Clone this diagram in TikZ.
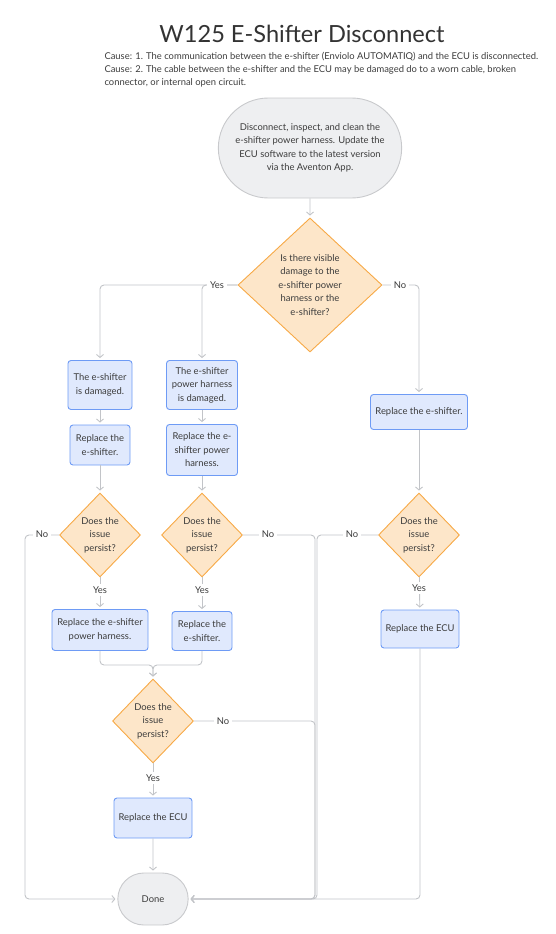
\documentclass[tikz,border=0pt]{standalone}
\usepackage{fontspec}
\setmainfont{Lato}
\usetikzlibrary{shapes.geometric,shapes.misc,arrows.meta,positioning}
\definecolor{boxfill}{HTML}{E0E9FD}
\definecolor{boxline}{HTML}{6E9BF5}
\definecolor{askfill}{HTML}{FDE6C9}
\definecolor{askline}{HTML}{F7A946}
\definecolor{endfill}{HTML}{EEEFF1}
\definecolor{endline}{HTML}{C8C9CC}
\definecolor{wirecol}{HTML}{C2C4C8}
\definecolor{ink}{HTML}{3C3C3C}
\begin{document}
\begin{tikzpicture}[x=1pt,y=-1pt,
  every node/.style={text=ink, font=\fontsize{9.4}{13.5}\selectfont, align=center},
  task/.style={draw=boxline, fill=boxfill, line width=0.9pt, rounded corners=3pt, inner sep=1pt},
  ask/.style={diamond, draw=askline, fill=askfill, line width=0.9pt, inner sep=-3pt},
  ends/.style={rounded rectangle, draw=endline, fill=endfill, line width=0.9pt},
  wire/.style={draw=wirecol, line width=0.9pt, rounded corners=4pt, shorten >=2pt,
    -{Straight Barb[length=3pt,width=7pt]}},
  tag/.style={fill=white, inner sep=3pt}]
  \useasboundingbox (0,0) rectangle (556,934);

  % header
  \node[font=\fontsize{23.6}{28}\selectfont, text=black!80] (title) at (302,34) {W125 E-Shifter Disconnect};
  \node[anchor=north west, align=left, font=\fontsize{9.4}{13}\selectfont] (cause) at (101,49)
    {Cause: 1. The communication between the e-shifter (Enviolo AUTOMATIQ) and the ECU is disconnected.\\
     Cause: 2. The cable between the e-shifter and the ECU may be damaged do to a worn cable, broken\\
     connector, or internal open circuit.};

  % nodes
  \node[ends, minimum width=190pt, minimum height=100pt] (start) at (310,148)
    {Disconnect, inspect, and clean the\\e-shifter power harness. Update the\\ECU software to the latest version\\via the Aventon App.};
  \node[ask, minimum width=144pt, minimum height=134pt] (ask1) at (310,285)
    {Is there visible\\damage to the\\e-shifter power\\harness or the\\e-shifter?};

  \node[task, minimum width=64pt, minimum height=49pt] (shifterbad) at (100,385) {The e-shifter\\is damaged.};
  \node[task, minimum width=71pt, minimum height=49pt] (harnessbad) at (202,385) {The e-shifter\\power harness\\is damaged.};
  \node[task, minimum width=60pt, minimum height=40pt] (newshifterA) at (100,445) {Replace the\\e-shifter.};
  \node[task, minimum width=71pt, minimum height=51pt] (newharnessA) at (202,450) {Replace the e-\\shifter power\\harness.};
  \node[task, minimum width=97pt, minimum height=35pt] (newshifterR) at (419,412) {Replace the e-shifter.};

  \node[ask, minimum width=81pt, minimum height=84pt] (askL) at (100,535) {Does the\\issue\\persist?};
  \node[ask, minimum width=81pt, minimum height=84pt] (askM) at (202,535) {Does the\\issue\\persist?};
  \node[ask, minimum width=81pt, minimum height=84pt] (askR) at (419,535) {Does the\\issue\\persist?};

  \node[task, minimum width=96pt, minimum height=41pt] (newharnessB) at (100,630) {Replace the e-shifter\\power harness.};
  \node[task, minimum width=60pt, minimum height=39pt] (newshifterB) at (202,631) {Replace the\\e-shifter.};
  \node[task, minimum width=78pt, minimum height=38pt] (ecuR) at (420,629) {Replace the ECU};

  \node[ask, minimum width=81pt, minimum height=84pt] (askB) at (153,721) {Does the\\issue\\persist?};
  \node[task, minimum width=78pt, minimum height=40pt] (ecuB) at (153,818) {Replace the ECU};
  \node[ends, minimum width=77pt, minimum height=52pt] (done) at (153,899) {Done};

  % rails
  \coordinate (railL) at (25,535);
  \coordinate (railM) at (315,535);
  \coordinate (railR) at (317,535);
  \coordinate (merge) at (153,665);

  % connectors
  \draw[wire] (start) -- (ask1);
  \draw[wire] (ask1.west) -| (shifterbad.north);
  \draw[wire] (ask1.west) -| (harnessbad.north);
  \draw[wire] (ask1.east) -| (newshifterR.north);
  \draw[wire] (shifterbad) -- (newshifterA);
  \draw[wire] (harnessbad) -- (newharnessA);
  \draw[wire] (newshifterA) -- (askL);
  \draw[wire] (newharnessA) -- (askM);
  \draw[wire] (newshifterR) -- (askR);
  \draw[wire] (askL) -- (newharnessB);
  \draw[wire] (askM) -- (newshifterB);
  \draw[wire] (askR) -- (ecuR);
  \draw[wire] (newharnessB.south) |- (merge) -- (askB.north);
  \draw[wire] (newshifterB.south) |- (merge) -- (askB.north);
  \draw[wire] (askB) -- (ecuB);
  \draw[wire] (ecuB) -- (done);
  \draw[wire] (askL.west) -- (railL) |- (done.west);
  \draw[wire] (askM.east) -- (railM) |- (done.east);
  \draw[wire] (askR.west) -- (railR) |- (done.east);
  \draw[wire] (askB.east) -- (railM |- askB.east) |- (done.east);
  \draw[wire] (ecuR.south) |- (done.east);

  % labels
  \node[tag] (yes1) at (217,285) {Yes};
  \node[tag] (no1) at (400,285) {No};
  \node[tag] (noL) at (42,534) {No};
  \node[tag] (noM) at (268,534) {No};
  \node[tag] (noR) at (352,534) {No};
  \node[tag] (yesL) at (100,590) {Yes};
  \node[tag] (yesM) at (202,590) {Yes};
  \node[tag] (yesR) at (419,588) {Yes};
  \node[tag] (noB) at (223,721) {No};
  \node[tag] (yesB) at (153,778) {Yes};
\end{tikzpicture}
\end{document}
